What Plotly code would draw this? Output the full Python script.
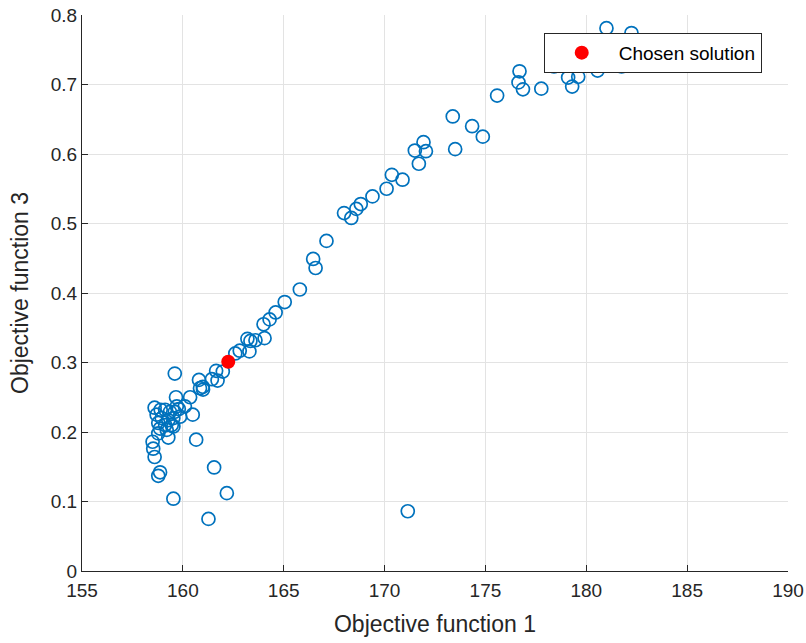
import plotly.graph_objects as go

# Pareto-front samples: objective 1 vs objective 3
obj1 = [
    181.0, 182.24, 178.4, 181.75, 180.56, 176.69, 176.64, 176.86, 177.77, 179.1,
    179.6, 179.3, 175.58, 173.38, 174.34, 174.87, 173.5, 171.93, 172.05, 171.5,
    171.7, 170.36, 170.89, 170.1, 169.4, 168.82, 168.6, 167.99, 168.35, 167.12,
    166.46, 166.58, 165.8, 165.05, 164.6, 164.3, 164.0, 164.05, 163.6, 163.2,
    163.35, 163.3, 162.82, 162.6, 161.98, 161.65, 161.72, 161.44, 160.8, 160.85,
    160.99, 161.0, 160.36, 159.66, 159.6, 160.49, 160.1, 159.7, 159.86, 160.66,
    161.55, 162.18, 159.53, 161.27, 171.15,
    158.6, 158.9, 159.12, 159.36, 159.6, 159.8, 158.7, 158.95, 159.28, 159.53,
    158.78, 159.12, 159.45, 158.87, 159.2, 158.78, 159.28, 159.53, 158.5, 158.53,
    158.6, 158.87, 158.78,
]
obj3 = [
    0.781, 0.774, 0.726, 0.726, 0.720, 0.719, 0.703, 0.693, 0.694, 0.710,
    0.711, 0.697, 0.684, 0.654, 0.640, 0.625, 0.607, 0.617, 0.604, 0.605,
    0.586, 0.570, 0.563, 0.550, 0.539, 0.528, 0.521, 0.515, 0.508, 0.475,
    0.449, 0.436, 0.405, 0.387, 0.372, 0.362, 0.355, 0.335, 0.332, 0.334,
    0.331, 0.316, 0.317, 0.313, 0.287, 0.288, 0.274, 0.276, 0.275, 0.263,
    0.265, 0.261, 0.250, 0.250, 0.284, 0.225, 0.237, 0.237, 0.222, 0.189,
    0.149, 0.112, 0.104, 0.075, 0.086,
    0.235, 0.232, 0.232, 0.229, 0.229, 0.233, 0.225, 0.220, 0.217, 0.220,
    0.213, 0.210, 0.210, 0.205, 0.203, 0.198, 0.192, 0.208, 0.186, 0.176,
    0.164, 0.142, 0.137,
]

chosen_x = [162.25]
chosen_y = [0.301]

x_ticks = [155, 160, 165, 170, 175, 180, 185, 190]
y_ticks = [0, 0.1, 0.2, 0.3, 0.4, 0.5, 0.6, 0.7, 0.8]
y_tick_text = ["0", "0.1", "0.2", "0.3", "0.4", "0.5", "0.6", "0.7", "0.8"]

FONT = "Liberation Sans, Arial, Helvetica, sans-serif"
TXT = "#262626"
GRID = "#e3e3e3"

fig = go.Figure()
fig.add_trace(go.Scatter(
    x=obj1, y=obj3, mode="markers", showlegend=False,
    marker=dict(symbol="circle-open", size=13, color="#0072BD",
                line=dict(width=1.7, color="#0072BD")),
))
fig.add_trace(go.Scatter(
    x=chosen_x, y=chosen_y, mode="markers", name="Chosen solution",
    marker=dict(symbol="circle", size=14, color="#ff0000"),
))

axis_common = dict(
    showgrid=True, gridcolor=GRID, gridwidth=1,
    showline=True, linecolor=TXT, linewidth=1,
    ticks="inside", ticklen=6, tickcolor=TXT, tickwidth=1,
    tickfont=dict(family=FONT, size=19, color=TXT),
    zeroline=False, automargin=False,
)

fig.update_layout(
    width=806, height=643,
    margin=dict(l=82, r=18, t=15, b=72),
    paper_bgcolor="white", plot_bgcolor="white",
    font=dict(family=FONT, color=TXT),
    xaxis=dict(range=[155, 190], tickvals=x_ticks, ticklabelstandoff=2,
               title=dict(text="Objective function 1",
                          font=dict(family=FONT, size=23, color=TXT), standoff=16),
               **axis_common),
    yaxis=dict(range=[0, 0.8], tickvals=y_ticks, ticktext=y_tick_text,
               title=dict(text="Objective function 3",
                          font=dict(family=FONT, size=23, color=TXT), standoff=15),
               **axis_common),
    legend=dict(x=0.654, y=0.968, xanchor="left", yanchor="top",
                bgcolor="white", bordercolor=TXT, borderwidth=1,
                font=dict(family=FONT, size=19, color="black"),
                itemwidth=64),
)

fig.write_html("out.html")
